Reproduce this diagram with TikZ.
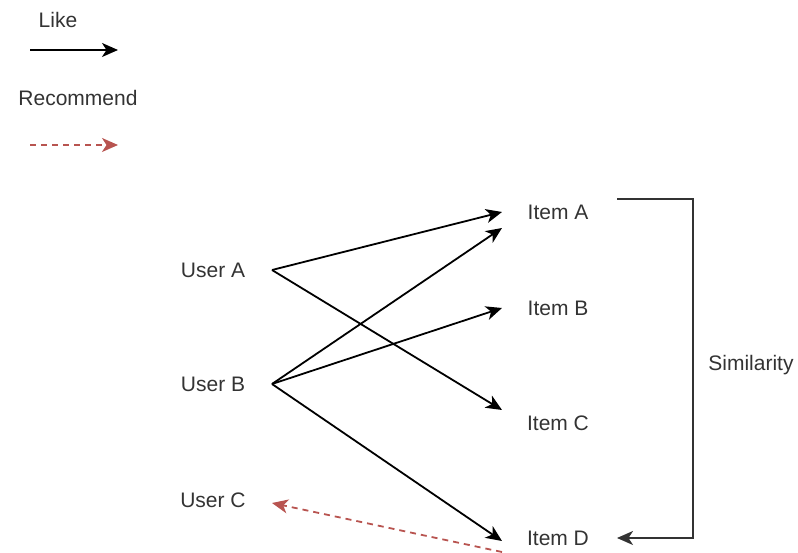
\documentclass[tikz,border=0pt]{standalone}
\usepackage{fontspec}
\setmainfont{Liberation Sans}
\usetikzlibrary{arrows.meta}
\definecolor{recred}{HTML}{B85450}
\definecolor{simgray}{HTML}{333333}
\tikzset{
  lbl/.style={font=\fontsize{21}{24}\selectfont, text=black!80, inner sep=0pt},
  tip/.style={-{Stealth[length=16pt,width=14pt,inset=4.5pt]}},
  like/.style={tip, draw=black, line width=1.8pt},
  recommend/.style={tip, draw=recred, line width=1.8pt, dash pattern=on 6pt off 5pt},
  simline/.style={tip, draw=simgray, line width=1.8pt}
}
\begin{document}
\begin{tikzpicture}[x=1pt,y=-1pt]
\useasboundingbox (0,0) rectangle (798,553);
% legend
\node[lbl] (likelbl) at (58,20) {Like};
\coordinate (l1) at (30,50);
\coordinate (l2) at (118,50);
\draw[like] (l1) -- (l2);
\node[lbl] (reclbl) at (78,98) {Recommend};
\coordinate (r1) at (30,145);
\coordinate (r2) at (118,145);
\draw[recommend] (r1) -- (r2);
% users
\node[lbl] (ua) at (213,270) {User A};
\node[lbl] (ub) at (213,384) {User B};
\node[lbl] (uc) at (213,500) {User C};
% items
\node[lbl] (ia) at (558,212) {Item A};
\node[lbl] (ib) at (558,308) {Item B};
\node[lbl] (ic) at (558,423) {Item C};
\node[lbl] (id) at (558,538) {Item D};
\node[lbl] (sim) at (751,365) {Similarity};
% connection anchors
\coordinate (uaR) at (272,270);
\coordinate (ubR) at (272,384);
\coordinate (ucR) at (272,503);
\coordinate (iaL1) at (502,212);
\coordinate (iaL2) at (502,228);
\coordinate (ibL) at (502,308);
\coordinate (icL) at (502,410);
\coordinate (idL) at (502,541);
\coordinate (idB) at (502,552);
% likes
\draw[like] (uaR) -- (iaL1);
\draw[like] (uaR) -- (icL);
\draw[like] (ubR) -- (iaL2);
\draw[like] (ubR) -- (ibL);
\draw[like] (ubR) -- (idL);
% recommendation
\draw[recommend] (idB) -- (ucR);
% similarity bracket
\coordinate (s1) at (617,199);
\coordinate (s2) at (617,538);
\draw[simline] (s1) -- (693,199) -- (693,538) -- (s2);
\end{tikzpicture}
\end{document}
